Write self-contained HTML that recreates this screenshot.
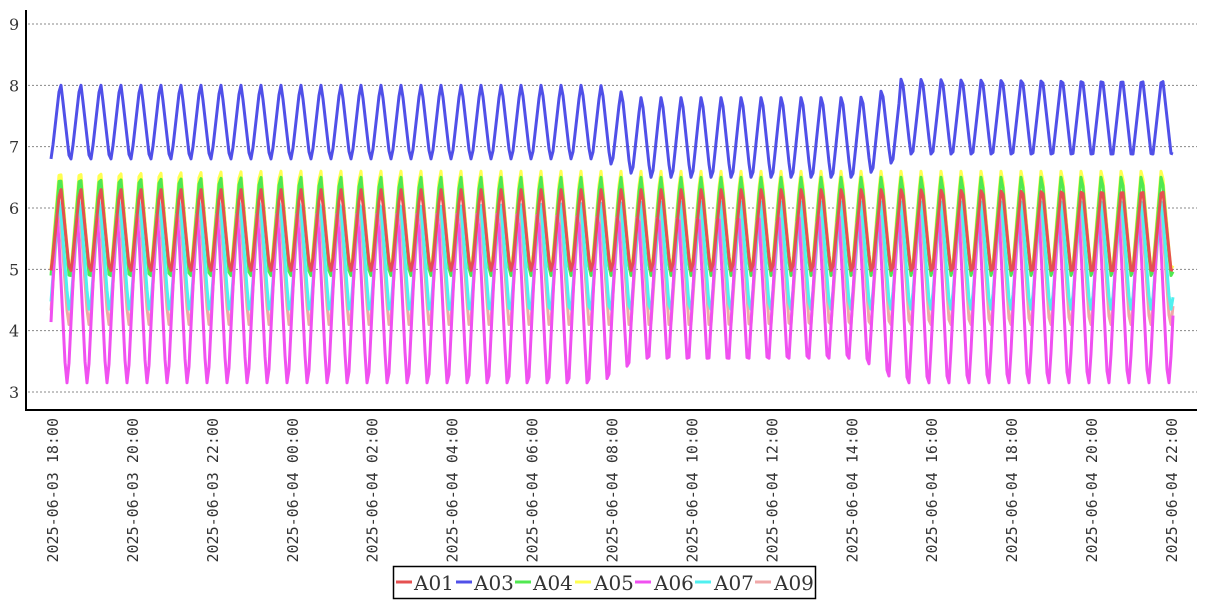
<!DOCTYPE html>
<html><head><meta charset="utf-8"><style>
body{margin:0;background:#fff;width:1207px;height:600px;overflow:hidden}
svg{display:block}
</style></head><body>
<svg id="s" width="1207" height="600" xmlns="http://www.w3.org/2000/svg">
<g id="grid"></g>
<g id="series" fill="none" stroke-width="3" stroke-linejoin="round"></g>
<line x1="26" y1="10" x2="26" y2="411" stroke="#000" stroke-width="2"/>
<line x1="26" y1="410" x2="1197" y2="410" stroke="#000" stroke-width="2"/>
<g id="labels" font-family="DejaVu Sans Mono, Liberation Mono, monospace" font-size="15" fill="#333"></g>
<rect x="393.5" y="566.5" width="422" height="32" fill="#fff" stroke="#000" stroke-width="1.5"/>
<g font-family="DejaVu Serif, Liberation Serif, serif" font-size="20" fill="#333">
<line x1="396" y1="582" x2="412" y2="582" stroke="#e55050" stroke-width="3"/><text x="414" y="590">A01</text>
<line x1="456" y1="582" x2="472" y2="582" stroke="#5050e8" stroke-width="3"/><text x="474" y="590">A03</text>
<line x1="515" y1="582" x2="531" y2="582" stroke="#50e850" stroke-width="3"/><text x="533" y="590">A04</text>
<line x1="575" y1="582" x2="591" y2="582" stroke="#ffff50" stroke-width="3"/><text x="594" y="590">A05</text>
<line x1="635" y1="582" x2="651" y2="582" stroke="#f050f0" stroke-width="3"/><text x="654" y="590">A06</text>
<line x1="695" y1="582" x2="711" y2="582" stroke="#50f0f0" stroke-width="3"/><text x="714" y="590">A07</text>
<line x1="755" y1="582" x2="771" y2="582" stroke="#f0a8a8" stroke-width="3"/><text x="774" y="590">A09</text>
</g>
</svg>
<script>
const NS="http://www.w3.org/2000/svg";
const Y=v=>24+(9-v)*61.33;
const grid=document.getElementById('grid');
for(let v=3;v<=9;v++){
 const y=Y(v);
 const l=document.createElementNS(NS,'line');
 l.setAttribute('x1',28);l.setAttribute('x2',1197);l.setAttribute('y1',y);l.setAttribute('y2',y);
 l.setAttribute('stroke','#888');l.setAttribute('stroke-dasharray','2,2');l.setAttribute('stroke-width','1');
 grid.appendChild(l);
 const t=document.createElementNS(NS,'text');
 t.setAttribute('x',9);t.setAttribute('y',y+6);t.setAttribute('font-family','DejaVu Serif, Liberation Serif, serif');
 t.setAttribute('font-size','16');t.setAttribute('fill','#333');t.textContent=v;grid.appendChild(t);
}
const labels=document.getElementById('labels');
const names=["2025-06-03  18:00","2025-06-03  20:00","2025-06-03  22:00","2025-06-04  00:00","2025-06-04  02:00","2025-06-04  04:00","2025-06-04  06:00","2025-06-04  08:00","2025-06-04  10:00","2025-06-04  12:00","2025-06-04  14:00","2025-06-04  16:00","2025-06-04  18:00","2025-06-04  20:00","2025-06-04  22:00"];
names.forEach((n,i)=>{
 const x=53+i*79.93;
 const t=document.createElementNS(NS,'text');
 t.setAttribute('transform',`translate(${x+5},418) rotate(-90)`);
 t.setAttribute('text-anchor','end');t.setAttribute('xml:space','preserve');t.textContent=n;labels.appendChild(t);
});
const mid=x=>{
 if(x<600)return 0; if(x<640)return (x-600)/40; if(x<860)return 1; if(x<900)return 1-(x-860)/40; return 0;};
const ser=[
 {c:'#ffff50',lo:x=>5.0,hi:x=>6.6,ph:0.45},
 {c:'#50e850',lo:x=>4.9,hi:x=>6.5,ph:0.45},
 {c:'#f0a8a8',lo:x=>4.1,hi:x=>6.0,ph:0.4},
 {c:'#50f0f0',lo:x=>4.35,hi:x=>6.1,ph:0.42},
 {c:'#f050f0',lo:x=>3.15+0.4*mid(x),hi:x=>5.9,ph:0.3},
 {c:'#e55050',lo:x=>4.98,hi:x=>6.3,ph:0.47},
 {c:'#5050e8',lo:x=>6.8-0.3*mid(x)+(x>900?0.08:0),hi:x=>8.0-0.2*mid(x)+(x>900?0.1:0),ph:0.47},
];
const g=document.getElementById('series');
ser.forEach(s=>{
 let pts=[];
 for(let x=51;x<=1173;x+=2){
  const t=(x-51)/20.03;
  let f=((t-s.ph)%1+1)%1; // 0 at peak
  let tri=1-2*Math.min(f,1-f); // 1 at peak, 0 at trough
  let v=Math.min(1,Math.max(0,1.2*tri-0.12));
  const val=s.lo(x)+(s.hi(x)-s.lo(x))*v;
  pts.push(x+','+Y(val).toFixed(1));
 }
 const p=document.createElementNS(NS,'polyline');
 p.setAttribute('points',pts.join(' '));p.setAttribute('stroke',s.c);g.appendChild(p);
});
</script>
</body></html>
